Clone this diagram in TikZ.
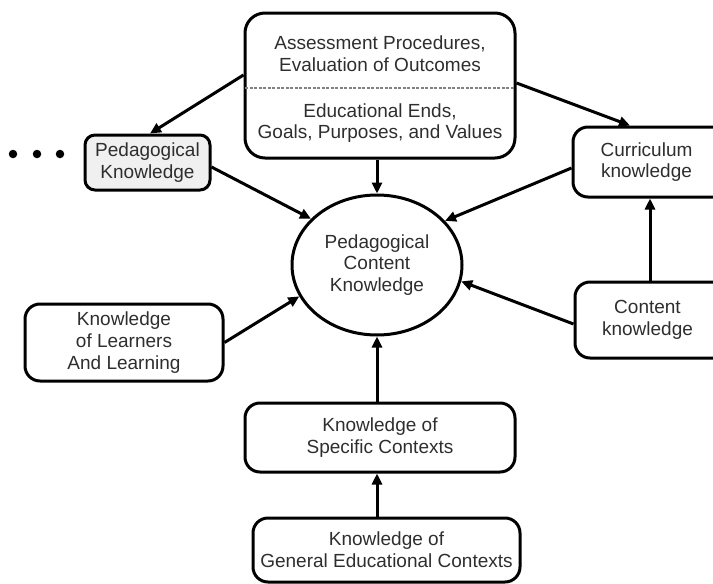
\documentclass[tikz,border=0pt]{standalone}
\usepackage{fontspec}
\setmainfont{Liberation Sans}
\usetikzlibrary{arrows.meta,shapes.geometric}
\begin{document}
\begin{tikzpicture}[x=1pt,y=-1pt,
  box/.style={draw=black,line width=3pt,rounded corners=15pt,minimum width=#1,inner sep=0pt},
  lbl/.style={font=\fontsize{19}{21.8}\selectfont,align=center,inner sep=0pt,text=black!82},
  arr/.style={line width=3pt,-{Triangle[length=11pt,width=10pt]}},
  dot/.style={circle,fill=black,minimum size=8.5pt,inner sep=0pt}]
\useasboundingbox (0,0) rectangle (713,584);
\clip (0,0) rectangle (713,584);
% boxes
\node[box=270pt,minimum height=145pt,rounded corners=20pt] (top) at (380,85.5) {};
\draw[gray,line width=1.4pt,dash pattern=on 3pt off 1.5pt] ([xshift=1.5pt]top.west |- 0,88) coordinate (dl) -- ([xshift=-1.5pt]top.east |- 0,88) coordinate (dr);
\node[lbl] (t1) at (380,54) {Assessment Procedures,\\Evaluation of Outcomes};
\node[lbl] (t2) at (380,123) {Educational Ends,\\Goals, Purposes, and Values};
\node[box=125pt,minimum height=55pt,fill=black!6,lbl,line width=3pt,rounded corners=10pt] (pk) at (147.5,162.5) {Pedagogical\\Knowledge};
\node[box=187pt,minimum height=70pt,line width=3pt,rounded corners=15pt] (cur) at (666.5,162) {};
\node[lbl] (curt) at (646.5,162) {Curriculum\\knowledge};
\node[box=185pt,minimum height=76pt,line width=3pt,rounded corners=15pt] (con) at (667.5,320) {};
\node[lbl] (cont) at (647.5,320) {Content\\knowledge};
\node[ellipse,draw,line width=3pt,minimum width=170pt,minimum height=140pt,lbl] (pck) at (377,265) {Pedagogical\\Content\\Knowledge};
\node[box=198pt,minimum height=77pt,lbl,line width=3pt,rounded corners=15pt] (lea) at (124,342.5) {Knowledge\\of Learners\\And Learning};
\node[box=270pt,minimum height=69pt,lbl,line width=3pt,rounded corners=15pt] (spe) at (380,437.5) {Knowledge of\\Specific Contexts};
\node[box=267pt,minimum height=64pt,lbl,line width=3pt,rounded corners=15pt] (gen) at (386.5,550) {Knowledge of\\General Educational Contexts};
% dots
\node[dot] (d1) at (13,154) {};
\node[dot] (d2) at (37,154) {};
\node[dot] (d3) at (60,154) {};
% arrows
\draw[arr] ([yshift=10.5pt]top.west) -- ([xshift=2.5pt]pk.north);
\draw[arr] ([yshift=2.5pt]top.east) -- ([xshift=-36.5pt]cur.north);
\draw[arr] (top.south -| pck.north) -- (pck.north);
\draw[arr] ([yshift=-4.5pt]pk.east) -- (pck.145.3);
\draw[arr] ([yshift=-6pt]cur.west) -- (pck.33.5);
\draw[arr] ([yshift=-4pt]con.west) -- (pck.-11.4);
\draw[arr] (lea.east) -- (pck.202.7);
\draw[arr] ([xshift=-17.5pt]con.north) -- ([xshift=-16.5pt]cur.south);
\draw[arr] (spe.north -| pck.south) -- (pck.south);
\draw[arr] (gen.north -| pck.south) -- (spe.south -| pck.south);
\end{tikzpicture}
\end{document}
